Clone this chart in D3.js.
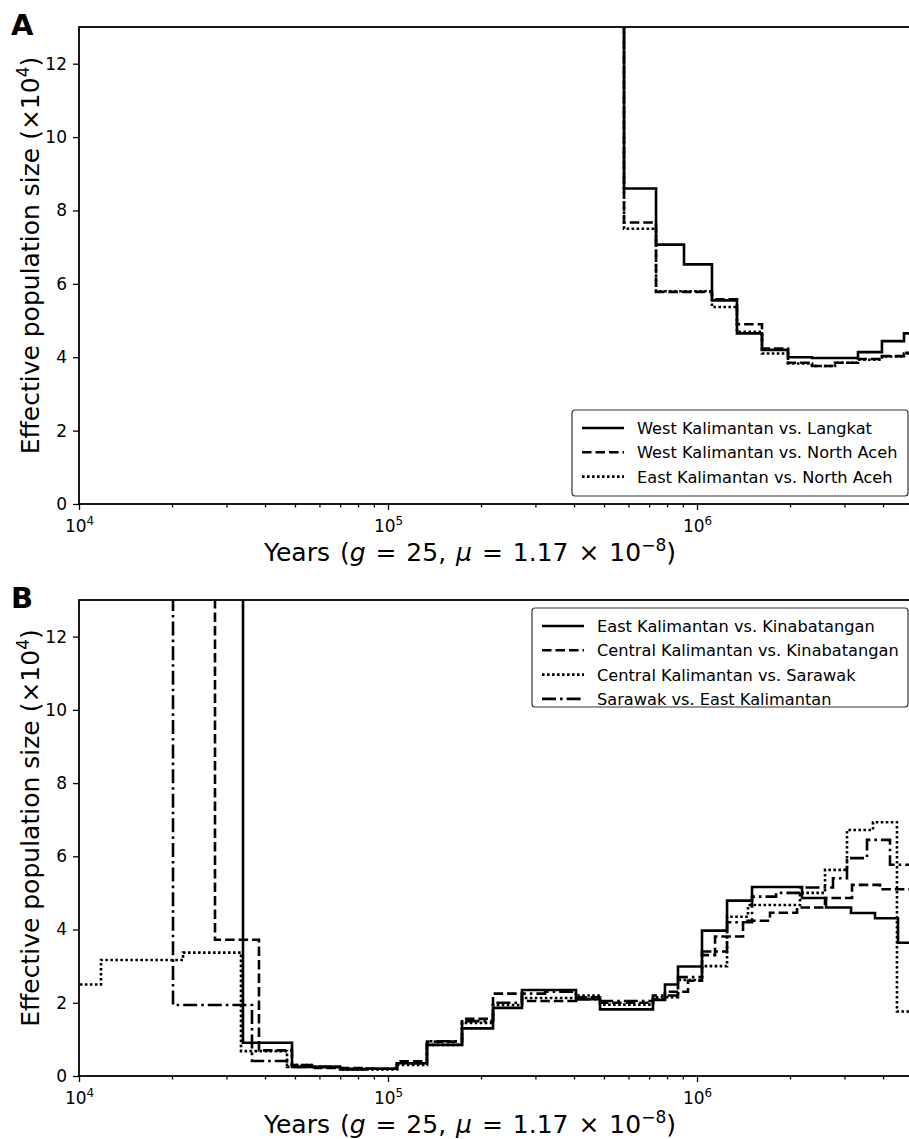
<!DOCTYPE html>
<meta charset="utf-8">
<style>
    body { margin: 0; background: #fff; }
    text { font-family: "DejaVu Sans", sans-serif; fill: #000; }
    .tick line { stroke: #000; stroke-width: 1.3; }
    .series { fill: none; stroke: #000; stroke-width: 2.6; }
</style>
<svg width="909" height="1139"></svg>
<script src="https://d3js.org/d3.v7.min.js"></script>
<script>

    // ---- data (years before present, Ne in units of 10^4) ----
    var yTicks = [0, 2, 4, 6, 8, 10, 12];
    var xMajor = [1e4, 1e5, 1e6];

    // panel A: shared MSMC time segments
    var aTimes = [400000, 580500, 736900, 907700, 1118000, 1347000, 1623000, 1970000, 2356000, 2797000, 3319000, 3968000, 4676000];
    var aWestLangkat = [40, 8.6, 7.07, 6.53, 5.55, 4.65, 4.2, 4.0, 3.98, 3.98, 4.14, 4.44, 4.65];
    var aWestAceh    = [40, 7.67, 5.78, 5.78, 5.58, 4.9, 4.24, 3.85, 3.76, 3.85, 3.95, 4.03, 4.12];
    var aEastAceh    = [40, 7.5, 5.8, 5.8, 5.37, 4.69, 4.1, 3.83, 3.76, 3.85, 3.93, 4.02, 4.1];
    var aLabels = ["West Kalimantan vs. Langkat", "West Kalimantan vs. North Aceh", "East Kalimantan vs. North Aceh"];

    // panel B
    var bEastKinaTimes = [24640, 33940, 48900, 69950, 84290, 106900, 133700, 173600, 218700, 271400, 405900, 485500, 720300, 787600, 867900, 1038000, 1251000, 1507000, 2187000, 2616000, 3151000, 3768000, 4472000];
    var bEastKina      = [40, 0.91, 0.25, 0.18, 0.2, 0.35, 0.85, 1.3, 1.86, 2.35, 2.1, 1.82, 2.08, 2.5, 2.99, 3.97, 4.79, 5.16, 4.86, 4.6, 4.45, 4.31, 3.64];

    var bCentKinaTimes = [22870, 27550, 38230, 48900, 58040, 84290, 106900, 133700, 173600, 218700, 271400, 405900, 485500, 720300, 787600, 935200, 1038000, 1144000, 1409000, 1723000, 2107000, 2596000, 3175000, 3910000];
    var bCentKina      = [40, 3.72, 0.7, 0.3, 0.22, 0.2, 0.4, 0.94, 1.56, 2.25, 2.05, 2.15, 2.0, 2.1, 2.3, 2.6, 3.3, 3.81, 4.24, 4.46, 4.6, 4.86, 5.22, 5.1];

    var bCentSarTimes = [9000, 11780, 21710, 33440, 47110, 58040, 69950, 106900, 133700, 173600, 218700, 271400, 405900, 485500, 720300, 867900, 1038000, 1251000, 1462000, 2154000, 2596000, 3058000, 3712000, 4438000];
    var bCentSar      = [2.5, 3.17, 3.37, 0.68, 0.3, 0.25, 0.18, 0.3, 0.85, 1.45, 1.94, 2.13, 2.2, 1.95, 2.15, 2.62, 3.0, 4.35, 4.67, 5.0, 5.63, 6.72, 6.93, 1.76];

    var bSarEastTimes = [16970, 20150, 36290, 47110, 69950, 106900, 133700, 173600, 218700, 271400, 322200, 405900, 485500, 720300, 867900, 1038000, 1251000, 1507000, 1802000, 2154000, 2755000, 3058000, 3550000, 4213000];
    var bSarEast      = [40, 1.94, 0.41, 0.25, 0.2, 0.35, 0.95, 1.5, 2.0, 2.25, 2.3, 2.1, 2.05, 2.2, 2.7, 3.4, 4.2, 4.9, 5.0, 5.15, 5.4, 5.95, 6.45, 5.77];
    var bLabels = ["East Kalimantan vs. Kinabatangan", "Central Kalimantan vs. Kinabatangan", "Central Kalimantan vs. Sarawak", "Sarawak vs. East Kalimantan"];

    var dashes = {solid: null, dashed: "9.5,4", dotted: "2.6,2.4", dashdot: "14,4,2.6,4"};

    var svg = d3.select("svg");
    var left = 79, xMax = 5e6;

    var x = d3.scaleLog()
        .domain([1e4, xMax])
        .range([left, left + 309 * Math.log10(xMax / 1e4)]);

    function supText(sel, base, exp) {
        sel.append("tspan").text(base);
        sel.append("tspan").attr("dy", -7).attr("font-size", "0.7em").text(exp);
    }

    function panel(id, letter, top, bottom, series, labels, legendBox) {
        var y = d3.scaleLinear().domain([0, 13]).range([bottom, top]);
        var g = svg.append("g");

        g.append("clipPath").attr("id", "clip" + id)
            .append("rect")
            .attr("x", x.range()[0]).attr("y", top)
            .attr("width", x.range()[1] - x.range()[0]).attr("height", bottom - top);

        var line = d3.line()
            .x(function(d) { return x(d[0]); })
            .y(function(d) { return y(d[1]); })
            .curve(d3.curveStepAfter);

        series.forEach(function(s) {
            var pts = s.times.map(function(t, i) { return [t, s.values[i]]; });
            pts.push([xMax * 1.5, s.values[s.values.length - 1]]);
            g.append("path")
                .attr("class", "series")
                .attr("clip-path", "url(#clip" + id + ")")
                .attr("stroke-dasharray", dashes[s.style])
                .attr("d", line(pts));
        });

        // y axis
        var ya = g.append("g")
            .attr("transform", "translate(" + left + ",0)")
            .call(d3.axisLeft(y).tickValues(yTicks).tickSize(6).tickPadding(6));
        ya.select(".domain").remove();
        ya.attr("font-size", null).attr("font-family", null);
        ya.selectAll(".tick text").style("font-size", "17px");

        // x axis: minor ticks
        var minor = [];
        [1e4, 1e5, 1e6].forEach(function(d) {
            for (var k = 2; k <= 9; k++) if (d * k <= xMax) minor.push(d * k);
        });
        var xm = g.append("g")
            .attr("transform", "translate(0," + bottom + ")")
            .call(d3.axisBottom(x).tickValues(minor).tickSize(3.5).tickFormat(""));
        xm.select(".domain").remove();

        var xa = g.append("g")
            .attr("transform", "translate(0," + bottom + ")")
            .call(d3.axisBottom(x).tickValues(xMajor).tickSize(6).tickPadding(8).tickFormat(""));
        xa.select(".domain").remove();
        xa.attr("font-size", null).attr("font-family", null);
        xa.selectAll(".tick text").style("font-size", "17px").each(function(d) {
            var t = d3.select(this).attr("dy", "0.8em");
            supText(t, "10", String(Math.round(Math.log10(d))));
        });

        // frame
        g.append("rect")
            .attr("x", left).attr("y", top)
            .attr("width", x.range()[1] - left).attr("height", bottom - top)
            .attr("fill", "none").attr("stroke", "#000").attr("stroke-width", 1.8);

        // axis titles
        var yl = g.append("text")
            .attr("transform", "translate(39," + ((top + bottom) / 2 - 10) + ") rotate(-90)")
            .attr("text-anchor", "middle")
            .attr("font-size", 25);
        yl.append("tspan").text("Effective population size (\u00d710");
        yl.append("tspan").attr("dy", -10).attr("font-size", 17).text("4");
        yl.append("tspan").attr("dy", 10).text(")");

        var xl = g.append("text")
            .attr("x", 470).attr("y", bottom + 57)
            .attr("text-anchor", "middle")
            .attr("font-size", 25)
            .attr("word-spacing", 2);
        xl.append("tspan").text("Years (");
        xl.append("tspan").attr("font-style", "italic").text("g");
        xl.append("tspan").text(" = 25, ");
        xl.append("tspan").attr("font-style", "italic").text("\u03bc");
        xl.append("tspan").text(" = 1.17 \u00d7 10");
        xl.append("tspan").attr("dy", -10).attr("font-size", 17).text("\u22128");
        xl.append("tspan").attr("dy", 10).text(")");

        // panel letter
        g.append("text")
            .attr("x", 11).attr("y", top + 8)
            .attr("font-family", "Liberation Sans, Arial, sans-serif")
            .attr("font-weight", "bold")
            .attr("font-size", 29)
            .text(letter);

        // legend
        var lg = g.append("g");
        lg.append("rect")
            .attr("x", legendBox.x).attr("y", legendBox.y)
            .attr("width", legendBox.w).attr("height", legendBox.h)
            .attr("rx", 3)
            .attr("fill", "#fff").attr("stroke", "#333").attr("stroke-width", 1.2);
        labels.forEach(function(lab, i) {
            var yy = legendBox.y + 18 + i * 24.3;
            lg.append("line")
                .attr("x1", legendBox.x + 10).attr("x2", legendBox.x + 52)
                .attr("y1", yy).attr("y2", yy)
                .attr("stroke", "#000").attr("stroke-width", 2.6)
                .attr("stroke-dasharray", dashes[series[i].style]);
            lg.append("text")
                .attr("x", legendBox.x + 65).attr("y", yy + 6)
                .attr("font-size", 16.2)
                .text(lab);
        });
    }

    panel("A", "A", 27, 504, [
        {times: aTimes, values: aWestLangkat, style: "solid"},
        {times: aTimes, values: aWestAceh, style: "dashed"},
        {times: aTimes, values: aEastAceh, style: "dotted"}
    ], aLabels, {x: 572, y: 410, w: 336, h: 86});

    panel("B", "B", 600, 1076, [
        {times: bEastKinaTimes, values: bEastKina, style: "solid"},
        {times: bCentKinaTimes, values: bCentKina, style: "dashed"},
        {times: bCentSarTimes, values: bCentSar, style: "dotted"},
        {times: bSarEastTimes, values: bSarEast, style: "dashdot"}
    ], bLabels, {x: 532, y: 608, w: 376, h: 99});

</script>
